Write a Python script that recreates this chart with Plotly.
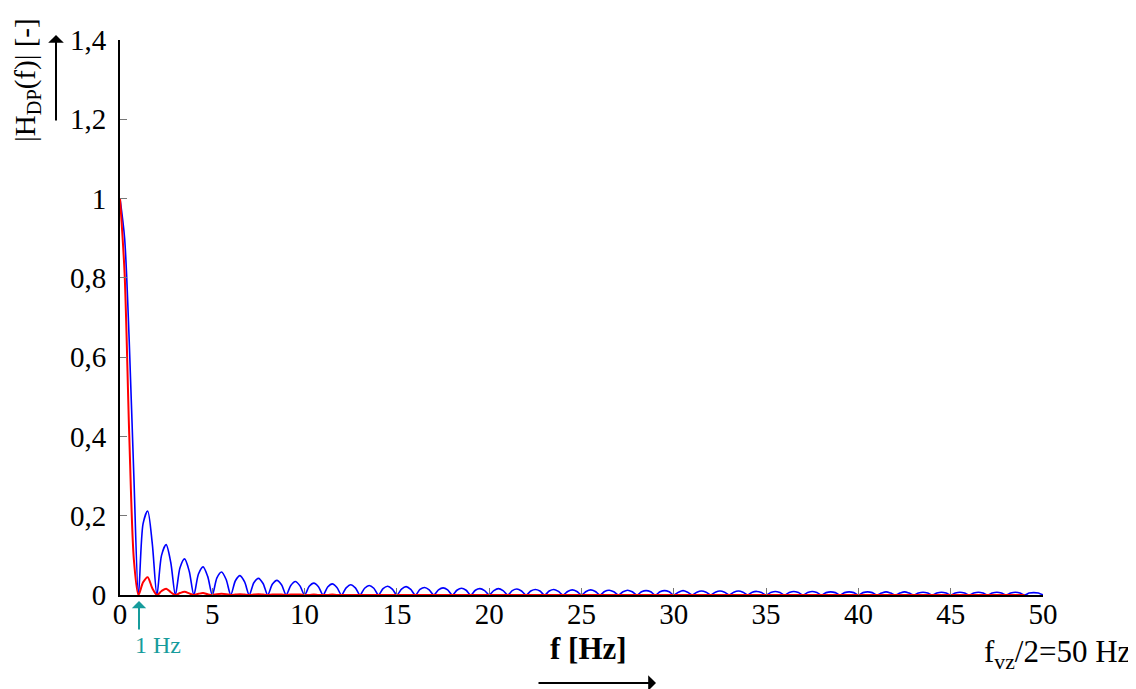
import plotly.graph_objects as go

# ---------------- data ----------------
# frequency grid [Hz], 0.25 Hz sampling from 0 to 50 Hz
freq = [i / 4 for i in range(201)]

# |H| of rectangular window (blue): main lobe, then each side lobe as
# (zero, rising quarter, peak, falling quarter), final zero at 50 Hz
blue_vals = [
    1.000, 0.900, 0.640, 0.300,
    0, 0.180, 0.212, 0.129,
    0, 0.100, 0.127, 0.082,
    0, 0.069, 0.091, 0.060,
    0, 0.053, 0.071, 0.047,
    0, 0.043, 0.058, 0.039,
    0, 0.036, 0.049, 0.033,
    0, 0.031, 0.042, 0.029,
    0, 0.027, 0.037, 0.026,
    0, 0.024, 0.034, 0.023,
    0, 0.022, 0.030, 0.021,
    0, 0.020, 0.028, 0.019,
    0, 0.018, 0.026, 0.018,
    0, 0.017, 0.024, 0.017,
    0, 0.016, 0.022, 0.015,
    0, 0.015, 0.021, 0.014,
    0, 0.014, 0.019, 0.013,
    0, 0.013, 0.018, 0.013,
    0, 0.012, 0.017, 0.012,
    0, 0.012, 0.016, 0.011,
    0, 0.011, 0.016, 0.011,
    0, 0.011, 0.015, 0.010,
    0, 0.010, 0.014, 0.010,
    0, 0.010, 0.014, 0.009,
    0, 0.009, 0.013, 0.009,
    0, 0.009, 0.013, 0.009,
    0, 0.009, 0.012, 0.008,
    0, 0.008, 0.012, 0.008,
    0, 0.008, 0.011, 0.008,
    0, 0.008, 0.011, 0.008,
    0, 0.007, 0.011, 0.007,
    0, 0.007, 0.010, 0.007,
    0, 0.007, 0.010, 0.007,
    0, 0.007, 0.010, 0.007,
    0, 0.007, 0.009, 0.006,
    0, 0.006, 0.009, 0.006,
    0, 0.006, 0.009, 0.006,
    0, 0.006, 0.009, 0.006,
    0, 0.006, 0.008, 0.006,
    0, 0.006, 0.008, 0.006,
    0, 0.006, 0.008, 0.006,
    0, 0.005, 0.008, 0.005,
    0, 0.005, 0.008, 0.005,
    0, 0.005, 0.007, 0.005,
    0, 0.005, 0.007, 0.005,
    0, 0.005, 0.007, 0.005,
    0, 0.005, 0.007, 0.005,
    0, 0.005, 0.007, 0.005,
    0, 0.005, 0.007, 0.005,
    0, 0.005, 0.006, 0.005,
    0,
]

# |H| of triangular window (red)
red_vals = [
    1.000, 0.810, 0.405, 0.090,
    0, 0.032, 0.045, 0.017,
    0, 0.010, 0.016, 0.007,
    0, 0.005, 0.008, 0.004,
    0, 0.003, 0.005, 0.002,
    0, 0.002, 0.003, 0.002,
    0, 0.001, 0.002, 0.001,
    0, 0.001, 0.002, 0.001,
    0, 0.001, 0.001, 0.001,
    0, 0.001, 0.001, 0.001,
    0, 0, 0.001, 0,
    0, 0, 0.001, 0,
    0, 0, 0, 0,
    0, 0, 0, 0,
    0, 0, 0, 0,
    0, 0, 0, 0,
    0, 0, 0, 0,
    0, 0, 0, 0,
    0, 0, 0, 0,
    0, 0, 0, 0,
    0, 0, 0, 0,
    0, 0, 0, 0,
    0, 0, 0, 0,
    0, 0, 0, 0,
    0, 0, 0, 0,
    0, 0, 0, 0,
    0, 0, 0, 0,
    0, 0, 0, 0,
    0, 0, 0, 0,
    0, 0, 0, 0,
    0, 0, 0, 0,
    0, 0, 0, 0,
    0, 0, 0, 0,
    0, 0, 0, 0,
    0, 0, 0, 0,
    0, 0, 0, 0,
    0, 0, 0, 0,
    0, 0, 0, 0,
    0, 0, 0, 0,
    0, 0, 0, 0,
    0, 0, 0, 0,
    0, 0, 0, 0,
    0, 0, 0, 0,
    0, 0, 0, 0,
    0, 0, 0, 0,
    0, 0, 0, 0,
    0, 0, 0, 0,
    0, 0, 0, 0,
    0, 0, 0, 0,
    0,
]

x_ticks = [0, 5, 10, 15, 20, 25, 30, 35, 40, 45, 50]
y_ticks = [0, 0.2, 0.4, 0.6, 0.8, 1.0, 1.2, 1.4]
y_tick_labels = ["0", "0,2", "0,4", "0,6", "0,8", "1", "1,2", "1,4"]

# ---------------- figure ----------------
FONT = "Liberation Serif"
OFF = 8                      # page body margin
W, H = 1136 - OFF, 689 - OFF
L, T, B = 120 - OFF, 40 - OFF, 94
R = W - L - 923
pw, ph = W - L - R, H - T - B


def px(x):
    # screen pixel x -> paper coordinate
    return (x - OFF - L) / pw


def py(y):
    # screen pixel y -> paper coordinate
    return (OFF + T + ph - y) / ph


fig = go.Figure()
fig.add_trace(go.Scatter(x=freq, y=blue_vals, mode="lines",
                         line=dict(color="#0000ff", width=1.6, shape="spline", smoothing=0.8),
                         hoverinfo="skip", showlegend=False))
fig.add_trace(go.Scatter(x=freq, y=red_vals, mode="lines",
                         line=dict(color="#ff0000", width=2, shape="spline", smoothing=0.8),
                         hoverinfo="skip", showlegend=False))

teal = "#169c9c"
C = dict(xref="paper", yref="paper", xanchor="center", yanchor="middle")
annotations = [
    # y-axis title
    dict(x=px(27), y=py(80), text="|H<sub>DP</sub>(f)| [-]", textangle=-90,
         showarrow=False, font=dict(family=FONT, size=29, color="black"), **C),
    # arrow next to y title
    dict(x=px(56), y=py(35), text="", showarrow=True,
         ax=0, ay=87, arrowhead=1, arrowsize=1.3, arrowwidth=2, arrowcolor="black", **C),
    # x-axis title
    dict(x=px(588), y=py(648), text="<b>f [Hz]</b>",
         showarrow=False, font=dict(family=FONT, size=31, color="black"), **C),
    # arrow under x title
    dict(x=px(656), y=py(683), text="", showarrow=True,
         ax=-119, ay=0, arrowhead=1, arrowsize=1.3, arrowwidth=2, arrowcolor="black", **C),
    # 1 Hz marker
    dict(x=px(158), y=py(645), text="1 Hz",
         showarrow=False, font=dict(family=FONT, size=24, color=teal), **C),
    dict(x=px(139), y=py(601), text="", showarrow=True,
         ax=0, ay=30, arrowhead=1, arrowsize=1.2, arrowwidth=2, arrowcolor=teal, **C),
    # Nyquist label
    dict(x=px(1057), y=py(654), text="f<sub>vz</sub>/2=50 Hz",
         showarrow=False, font=dict(family=FONT, size=31, color="black"), **C),
]

fig.update_layout(
    width=W, height=H,
    margin=dict(l=L, r=R, t=T, b=B, autoexpand=False),
    paper_bgcolor="white", plot_bgcolor="white",
    font=dict(family=FONT, size=29, color="black"),
    annotations=annotations,
    xaxis=dict(range=[0, 50], tickvals=x_ticks, ticktext=[str(v) for v in x_ticks],
               showgrid=False, zeroline=False, showline=True, linecolor="black", linewidth=2,
               ticks="inside", ticklen=7, tickcolor="#777777", tickwidth=1,
               ticklabelstandoff=-8,
               tickfont=dict(family=FONT, size=29, color="black")),
    yaxis=dict(range=[0, 1.4], tickvals=y_ticks, ticktext=y_tick_labels,
               showgrid=False, zeroline=False, showline=True, linecolor="black", linewidth=2,
               ticks="inside", ticklen=7, tickcolor="#777777", tickwidth=1,
               ticklabelstandoff=6,
               tickfont=dict(family=FONT, size=29, color="black")),
)

fig.write_html("out.html")
